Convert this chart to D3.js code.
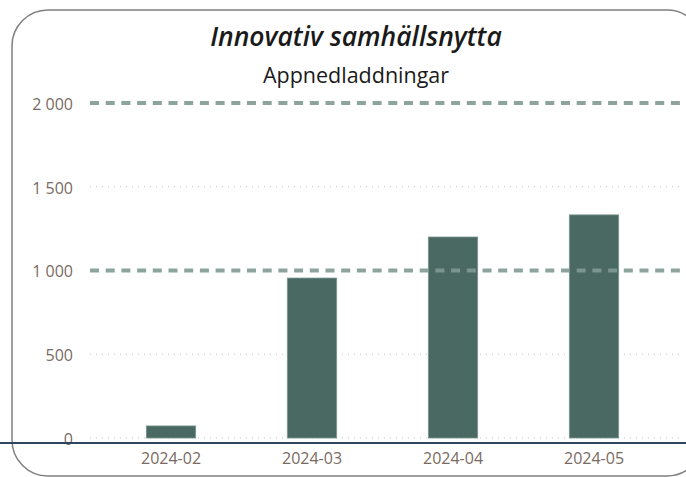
<!DOCTYPE html>
<html><head><meta charset="utf-8">
<script src="https://cdn.jsdelivr.net/npm/d3@7"></script>
<style>body{margin:0;background:#fff;}svg{display:block;}</style>
</head><body>
<script>
const categories = ["2024-02","2024-03","2024-04","2024-05"];
const values = [72, 955, 1200, 1332];
const yTicks = [0, 500, 1000, 1500, 2000];
const refLines = [1000, 2000];
const title = "Innovativ samhällsnytta";
const subtitle = "Appnedladdningar";

const W = 686, H = 477;
const svg = d3.select("body").append("svg").attr("width", W).attr("height", H);
const font = "'Open Sans', 'Noto Sans', sans-serif";

// frame
svg.append("rect").attr("x", 12).attr("y", 10).attr("width", 691).attr("height", 466)
  .attr("rx", 36).attr("ry", 36).attr("fill", "#fff").attr("stroke", "#7f7f7f").attr("stroke-width", 1.5);

const x = d3.scaleBand().domain(categories).range([100.5, 664.5]).paddingInner(0.65).paddingOuter(0.325);
const y = d3.scaleLinear().domain([0, 2000]).range([438, 103]);

// dotted grid
svg.append("g").selectAll("line").data(yTicks.filter(t => !refLines.includes(t)))
  .join("line").attr("x1", 90).attr("x2", 684).attr("y1", d => y(d)).attr("y2", d => y(d))
  .attr("stroke", "#bfbfbf").attr("stroke-width", 1).attr("stroke-dasharray", "1,5");

// y labels
const yAxis = d3.axisLeft(y).tickValues(yTicks).tickSize(0).tickPadding(0)
  .tickFormat(d => d3.format(",")(d).replace(",", " "));
const gy = svg.append("g").attr("transform", "translate(73,0)").call(yAxis);
gy.select(".domain").remove();
gy.selectAll("text").attr("font-family", font).attr("font-size", 16).attr("dy", "0.4em").attr("fill", "#7a6a62");

// bars
svg.append("g").selectAll("rect").data(values).join("rect")
  .attr("x", (d, i) => x(categories[i])).attr("width", x.bandwidth())
  .attr("y", d => y(d)).attr("height", d => y(0) - y(d))
  .attr("fill", "#4a6963").attr("stroke", "#7d9590").attr("stroke-width", 0.8);

// dashed reference lines (over bars)
svg.append("g").selectAll("line").data(refLines).join("line")
  .attr("x1", 90).attr("x2", 686).attr("y1", d => y(d)).attr("y2", d => y(d))
  .attr("stroke", "#7f9993").attr("stroke-opacity", 0.9).attr("stroke-width", 4).attr("stroke-dasharray", "9,6.7");

// x axis line
svg.append("line").attr("x1", 0).attr("x2", 686).attr("y1", 443).attr("y2", 443)
  .attr("stroke", "#2c4660").attr("stroke-width", 2);

// x labels
const xAxis = d3.axisBottom(x).tickSize(0).tickPadding(0);
const gx = svg.append("g").attr("transform", "translate(0,453)").call(xAxis);
gx.select(".domain").remove();
gx.selectAll("text").attr("font-family", font).attr("font-size", 16).attr("fill", "#7a6a62");

// titles
svg.append("text").attr("x", 356).attr("y", 45.5).attr("text-anchor", "middle")
  .attr("font-family", font).attr("font-size", 26.5).attr("font-style", "italic").attr("font-weight", 600)
  .attr("fill", "#1a1a1a").text(title);
svg.append("text").attr("x", 356).attr("y", 83).attr("text-anchor", "middle")
  .attr("font-family", font).attr("font-size", 21.5).attr("fill", "#1a1a1a").text(subtitle);
</script>
</body></html>
